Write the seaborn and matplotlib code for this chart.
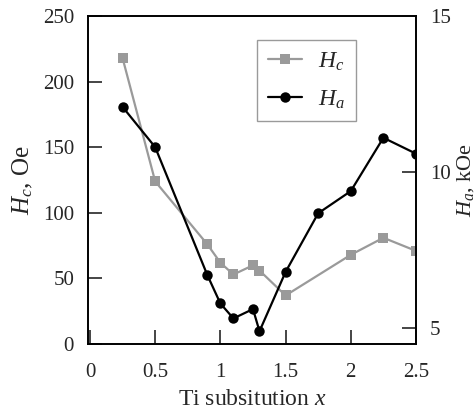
import matplotlib
matplotlib.use("Agg")
import matplotlib.pyplot as plt
import seaborn as sns
import pandas as pd

x_hc = [0.25, 0.5, 0.9, 1.0, 1.1, 1.25, 1.3, 1.5, 2.0, 2.25, 2.5]
hc_oe = [218, 124, 76, 62, 53, 60, 56, 37, 68, 81, 71]
x_ha = [0.25, 0.5, 0.9, 1.0, 1.1, 1.25, 1.3, 1.5, 1.75, 2.0, 2.25, 2.5]
ha_koe = [12.09, 10.8, 6.70, 5.79, 5.31, 5.61, 4.90, 6.80, 8.68, 9.39, 11.10, 10.59]
x_ticks = [0, 0.5, 1, 1.5, 2, 2.5]
x_ticklabels = ["0", "0.5", "1", "1.5", "2", "2.5"]
left_ticks = [0, 50, 100, 150, 200, 250]
right_ticks = [5, 10, 15]

sns.set_style("ticks")
plt.rcParams["font.family"] = ["Liberation Serif", "DejaVu Serif"]
plt.rcParams["mathtext.fontset"] = "custom"
plt.rcParams["mathtext.rm"] = "Liberation Serif"
plt.rcParams["mathtext.it"] = "Liberation Serif:italic"

df_hc = pd.DataFrame({"x": x_hc, "y": hc_oe})
df_ha = pd.DataFrame({"x": x_ha, "y": ha_koe})

fig = plt.figure(figsize=(4.77, 4.12), dpi=100)
ax = fig.add_axes([0.1845, 0.165, 0.6876, 0.796])
ax2 = ax.twinx()

gray = "#9a9a9a"
sns.lineplot(data=df_hc, x="x", y="y", ax=ax, color=gray, marker="s",
             markersize=7.5, markeredgewidth=0, linewidth=1.6, label=r"$H_c$", legend=False)
sns.lineplot(data=df_ha, x="x", y="y", ax=ax2, color="black", marker="o",
             markersize=7.5, markeredgewidth=0, linewidth=1.6, label=r"$H_a$", legend=False)

ax.set_xlim(-0.015, 2.5)
ax.set_ylim(0, 250)
ax2.set_ylim(4.49, 15)
ax.set_xticks(x_ticks)
ax.set_xticklabels(x_ticklabels)
ax.set_yticks(left_ticks)
ax2.set_yticks(right_ticks)

for a in (ax, ax2):
    for s in a.spines.values():
        s.set_linewidth(1.2)
        s.set_color("black")
    a.spines["top"].set_visible(True)
    a.spines["right"].set_visible(True)

ax.tick_params(axis="both", direction="in", length=10, width=1.2, labelsize=15)
ax.tick_params(axis="y", pad=10, right=False)
ax.tick_params(axis="x", pad=14, top=False)
ax2.tick_params(axis="y", direction="in", length=10, width=1.2, labelsize=15, pad=10)

ax.set_xlabel(r"Ti subsitution $x$", fontsize=17, labelpad=5)
ax.set_ylabel(r"$H_c$, Oe", fontsize=18, labelpad=6)
ax2.set_ylabel(r"$H_a$, kOe", fontsize=16, labelpad=3)

h1, l1 = ax.get_legend_handles_labels()
h2, l2 = ax2.get_legend_handles_labels()
leg = ax2.legend(h1 + h2, l1 + l2, loc="upper left", bbox_to_anchor=(0.515, 0.927),
                 borderaxespad=0, fancybox=False, edgecolor=gray, framealpha=1,
                 fontsize=17, handlelength=1.45, handletextpad=0.7,
                 labelspacing=0.65, borderpad=0.45)
leg.get_frame().set_linewidth(1.0)

fig.savefig("out.png", dpi=100)
